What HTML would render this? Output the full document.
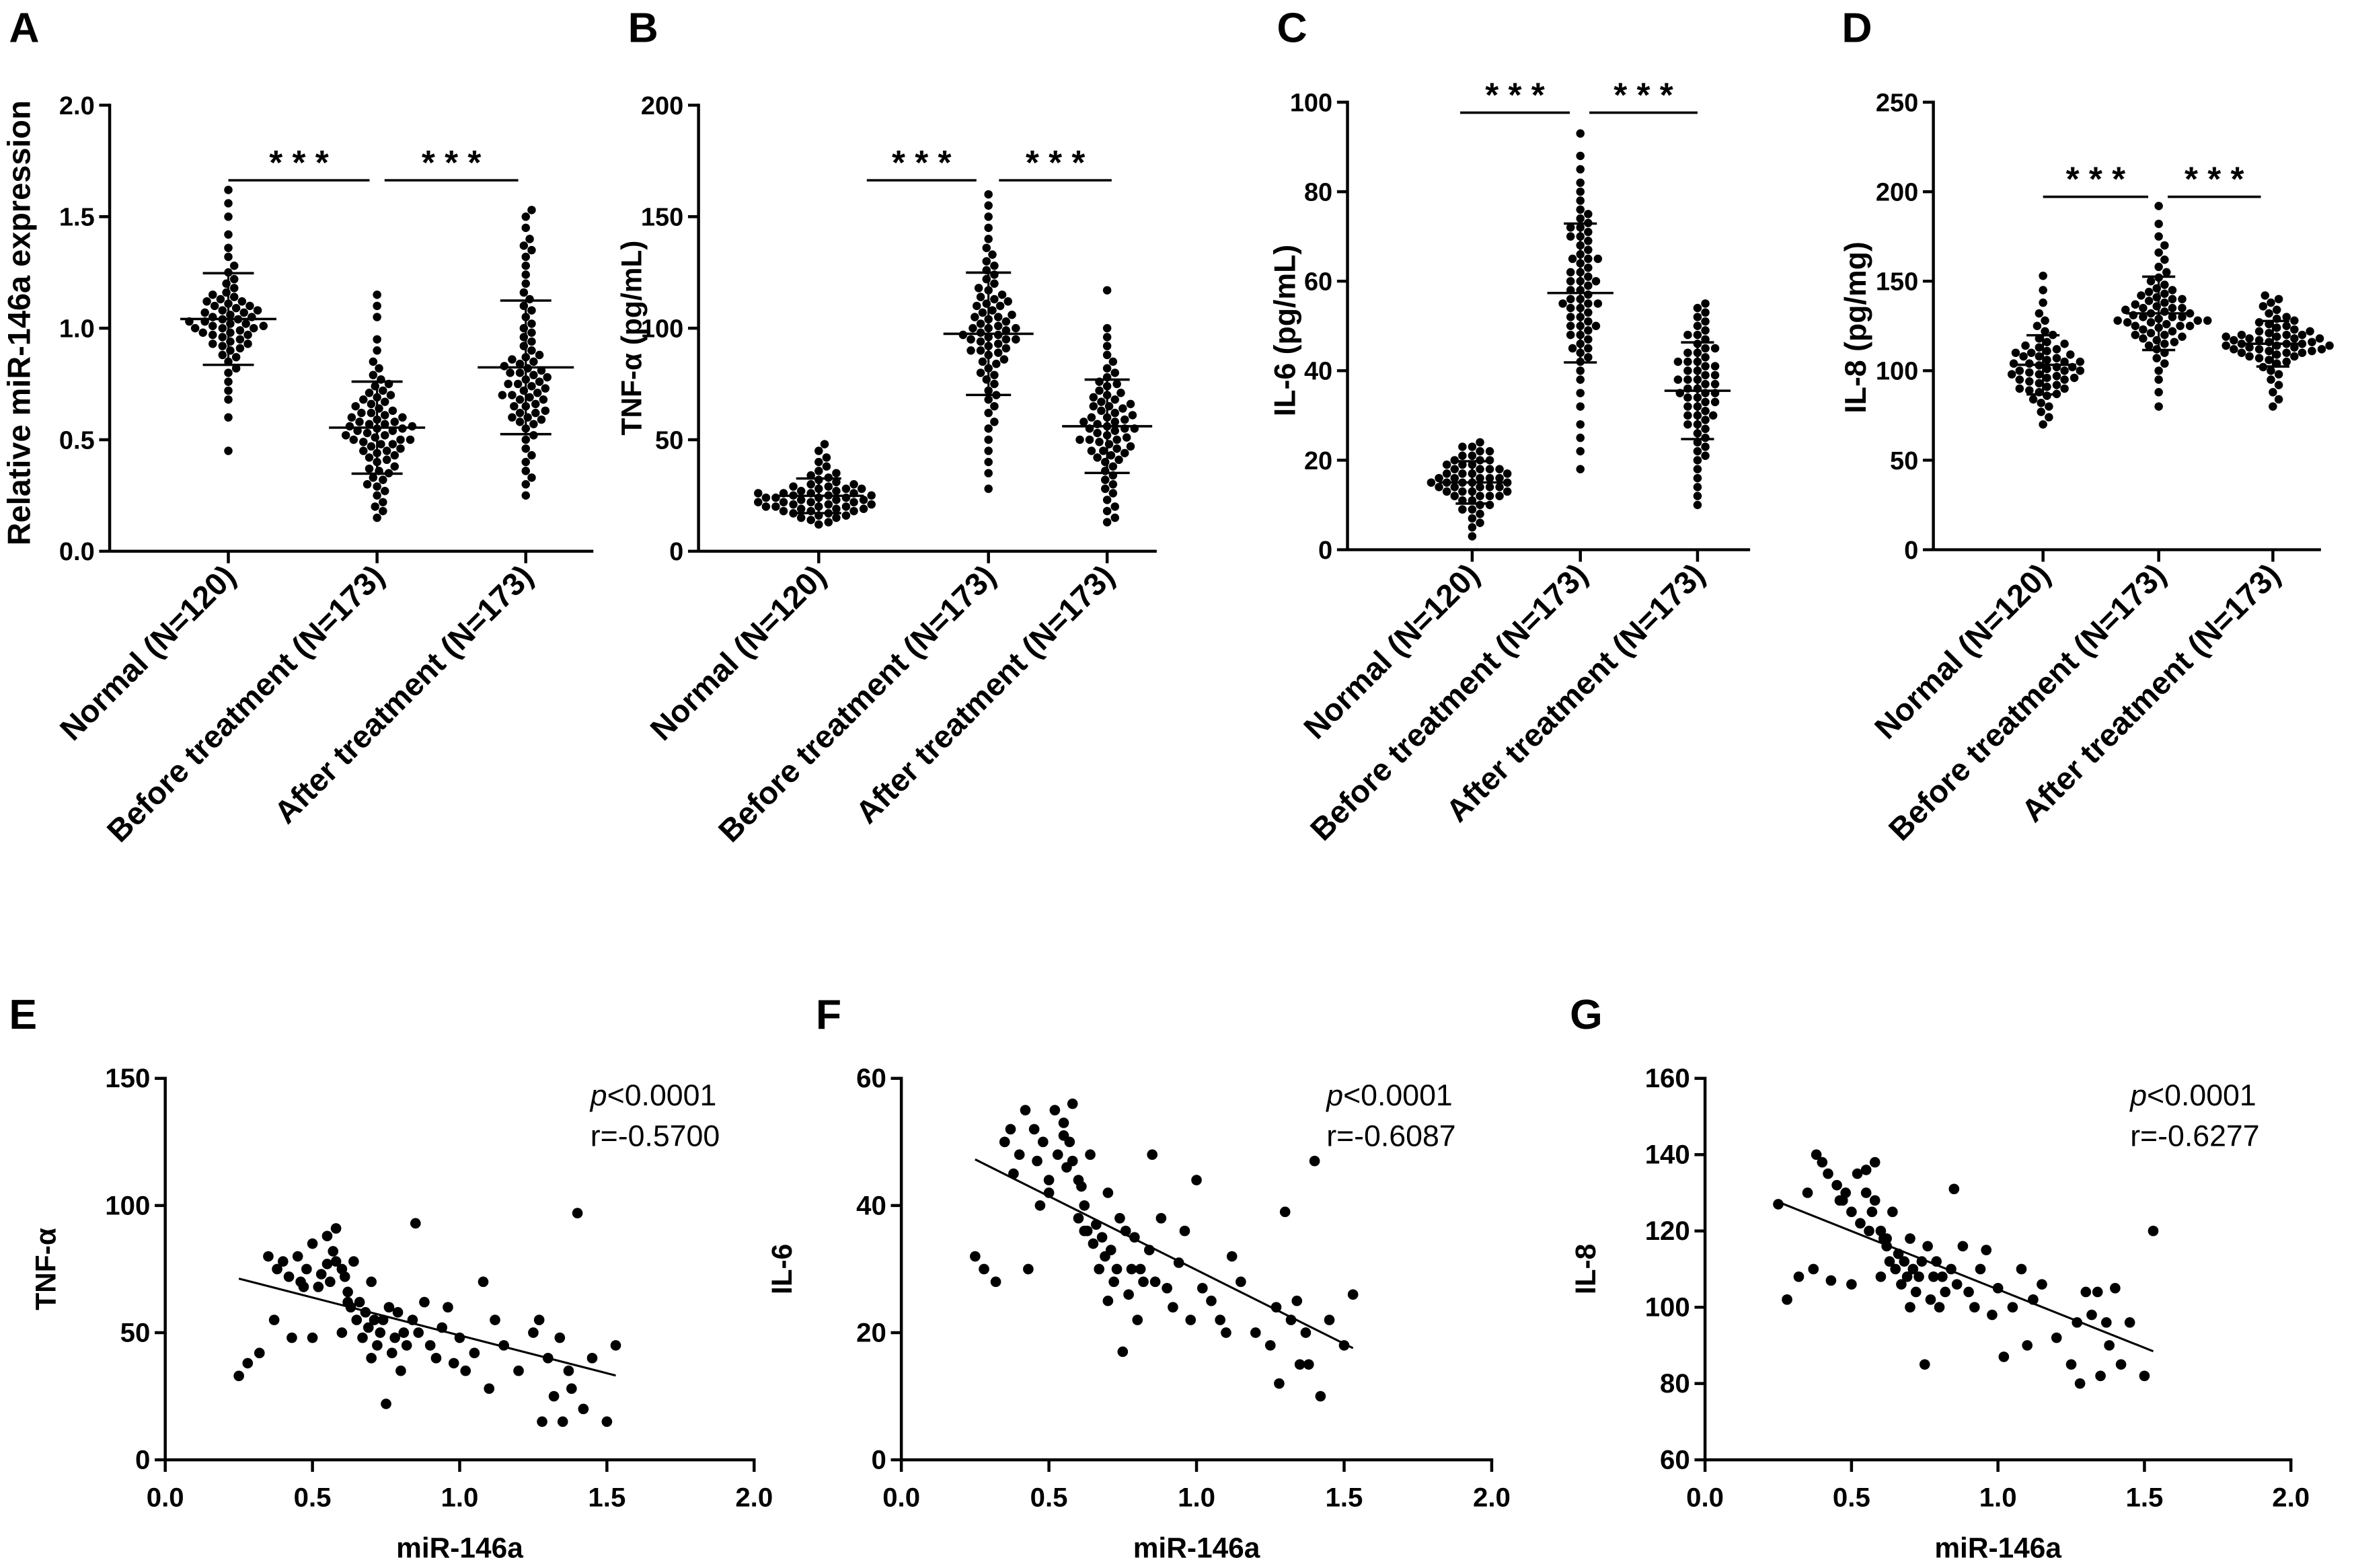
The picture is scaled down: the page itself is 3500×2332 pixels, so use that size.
<!DOCTYPE html>
<html><head><meta charset="utf-8"><style>
html,body{margin:0;padding:0;background:#fff}
svg{display:block;font-family:"Liberation Sans",Arial,sans-serif}
</style></head><body>
<svg id="fig" width="3500" height="2332" viewBox="0 0 1567 1044" xmlns="http://www.w3.org/2000/svg"></svg>
<script>
const categories=["Normal (N=120)","Before treatment (N=173)","After treatment (N=173)"];
const aNormal=[0.45,0.6,0.68,0.72,0.76,0.8,0.82,0.85,0.87,0.88,0.9,0.91,0.92,0.93,0.94,0.95,0.96,0.97,0.98,0.98,0.99,1.0,1.0,1.01,1.01,1.02,1.02,1.03,1.03,1.04,1.04,1.05,1.05,1.06,1.07,1.07,1.08,1.09,1.1,1.1,1.11,1.12,1.13,1.14,1.15,1.16,1.18,1.2,1.22,1.25,1.28,1.32,1.36,1.42,1.5,1.56,1.62,0.93,1.0,1.08,0.97,1.12];
const aBefore=[0.15,0.18,0.2,0.22,0.25,0.27,0.29,0.3,0.32,0.33,0.35,0.36,0.37,0.38,0.4,0.41,0.42,0.43,0.44,0.45,0.46,0.47,0.48,0.48,0.49,0.5,0.5,0.51,0.52,0.52,0.53,0.54,0.54,0.55,0.55,0.56,0.56,0.57,0.58,0.58,0.59,0.6,0.6,0.61,0.62,0.62,0.63,0.64,0.65,0.66,0.67,0.68,0.69,0.7,0.71,0.72,0.74,0.75,0.77,0.79,0.82,0.85,0.9,0.95,1.05,1.1,1.15,0.45,0.5,0.57];
const aAfter=[0.25,0.3,0.33,0.36,0.4,0.43,0.46,0.5,0.52,0.55,0.57,0.59,0.6,0.62,0.63,0.65,0.66,0.68,0.69,0.7,0.71,0.72,0.73,0.74,0.75,0.76,0.77,0.78,0.79,0.8,0.81,0.82,0.83,0.84,0.85,0.86,0.87,0.88,0.9,0.92,0.94,0.96,0.98,1.0,1.02,1.05,1.08,1.1,1.13,1.16,1.2,1.24,1.28,1.32,1.35,1.37,1.4,1.45,1.5,1.53,0.6,0.65,0.7,0.75,0.8,0.62,0.68,0.58];
const bNormal=[12,13,14,15,15,16,16,17,17,18,18,18,19,19,19,20,20,20,21,21,21,22,22,22,23,23,23,24,24,24,25,25,25,26,26,26,27,27,28,28,29,29,30,30,31,32,33,34,35,36,38,40,42,45,48,20,22,24,26,28];
const bBefore=[28,35,40,45,50,55,58,62,65,68,70,72,75,77,79,80,82,84,85,86,88,89,90,91,92,93,94,95,95,96,97,97,98,99,100,100,101,102,103,104,105,106,107,108,110,111,112,113,114,115,117,118,120,122,124,126,128,130,133,136,140,145,150,155,160,90,95,100,105,110];
const bAfter=[13,15,18,20,23,26,28,30,32,34,36,38,40,41,42,43,44,45,46,47,48,49,50,50,51,52,53,54,55,55,56,57,58,58,59,60,61,62,63,64,65,66,67,68,69,70,71,72,74,75,76,78,80,82,85,88,92,96,100,117,45,50,55,60,65];
const cNormal=[3,5,6,7,8,9,9,10,10,11,11,12,12,12,13,13,13,14,14,14,14,15,15,15,15,16,16,16,16,17,17,17,18,18,18,19,19,19,20,20,20,21,21,22,22,23,23,24,14,15,16,13,17,12,18];
const cBefore=[18,22,25,28,32,35,38,40,42,43,44,45,46,47,48,48,49,50,50,51,52,52,53,54,54,55,55,56,56,57,58,58,59,60,60,61,62,62,63,64,65,65,66,67,68,69,70,70,71,72,72,73,74,75,76,78,80,82,85,88,93,50,55,60,65,45];
const cAfter=[10,12,14,16,18,20,21,22,23,24,25,26,27,28,28,29,30,30,31,32,32,33,33,34,34,35,35,36,36,37,37,38,38,39,39,40,40,41,41,42,42,43,44,44,45,45,46,47,48,48,49,50,51,52,53,54,55,35,38,30,42];
const dNormal=[70,74,77,80,82,84,86,87,88,89,90,91,92,93,94,95,96,96,97,98,98,99,100,100,101,102,102,103,104,104,105,106,107,108,108,109,110,111,112,113,114,115,116,118,120,122,125,128,132,138,145,153,100,95,105,110,90];
const dBefore=[80,88,95,100,104,107,110,112,114,115,116,117,118,119,120,121,122,123,124,125,125,126,127,127,128,128,129,130,130,131,132,132,133,134,135,135,136,137,138,139,140,141,142,143,144,145,146,148,150,152,155,158,162,166,170,175,182,192,120,125,130,135,140,128];
const dAfter=[80,84,88,92,95,98,100,102,104,105,106,107,108,108,109,110,110,111,111,112,112,113,113,114,114,114,115,115,116,116,117,117,118,118,119,119,120,120,121,122,122,123,124,125,126,127,128,129,130,132,134,136,138,140,142,112,115,118,110,120];
const aTicks=["0.0","0.5","1.0","1.5","2.0"];
const bTicks=["0","50","100","150","200"];
const cTicks=["0","20","40","60","80","100"];
const dTicks=["0","50","100","150","200","250"];
const mirX=[0.25,0.28,0.32,0.35,0.37,0.38,0.4,0.42,0.43,0.45,0.46,0.48,0.5,0.5,0.52,0.53,0.55,0.55,0.56,0.57,0.58,0.58,0.6,0.6,0.61,0.62,0.63,0.64,0.65,0.66,0.67,0.68,0.69,0.7,0.7,0.71,0.72,0.73,0.74,0.75,0.76,0.77,0.78,0.79,0.8,0.81,0.82,0.84,0.85,0.86,0.88,0.9,0.92,0.94,0.96,0.98,1.0,1.02,1.05,1.08,1.1,1.12,1.15,1.2,1.25,1.27,1.28,1.3,1.32,1.34,1.35,1.37,1.38,1.4,1.42,1.45,1.5,1.53,0.47,0.62];
const tnfY=[33,38,42,80,55,75,78,72,48,80,70,75,48,85,68,73,77,88,70,82,78,91,75,50,72,66,60,78,55,62,48,58,52,70,40,55,45,50,55,22,60,42,48,58,35,50,45,55,93,50,62,45,40,52,60,38,48,35,42,70,28,55,45,35,50,55,15,40,25,48,15,35,28,97,20,40,15,45,68,62];
const il6Y=[32,30,28,50,52,45,48,55,30,52,47,50,42,44,55,48,51,53,46,50,47,56,44,38,43,40,36,48,34,37,30,35,32,42,25,33,28,30,38,17,36,26,30,35,22,30,28,33,48,28,38,27,24,31,36,22,44,27,25,22,20,32,28,20,18,24,12,39,22,25,15,20,15,47,10,22,18,26,40,36];
const il8Y=[127,102,108,130,110,140,138,135,107,132,128,130,106,125,135,122,130,136,120,125,128,138,120,108,118,116,112,125,110,114,106,112,108,118,100,110,104,108,112,85,116,102,108,112,100,108,104,110,131,106,116,104,100,110,115,98,105,87,100,110,90,102,106,92,85,96,80,104,98,104,82,96,90,105,85,96,82,120,128,118];
const xTicks=["0.0","0.5","1.0","1.5","2.0"];
const eTicks=["0","50","100","150"];
const fTicks=["0","20","40","60"];
const gTicks=["60","80","100","120","140","160"];
const pLabels=["p<0.0001","p<0.0001","p<0.0001"];
const rLabels=["r=-0.5700","r=-0.6087","r=-0.6277"];

const NS="http://www.w3.org/2000/svg";
const svg=document.getElementById('fig');
function el(tag,attrs,parent,text){const e=document.createElementNS(NS,tag);for(const k in attrs)e.setAttribute(k,attrs[k]);if(text!==undefined)e.textContent=text;(parent||svg).appendChild(e);return e;}
function line(x1,y1,x2,y2,w,p,name){const l=el('line',{x1,y1,x2,y2,stroke:'#000','stroke-width':w||1.6},p);

return l;}
function txt(x,y,s,size,anchor,weight,p,name,extra){const t=el('text',Object.assign({x,y,'font-size':size,'text-anchor':anchor||'middle','font-weight':weight||'normal',fill:'#000'},extra||{}),p,s);

return t;}

function swarmPanel(o){
  const g=el('g',{});
  
  
  const ys=v=>o.y0-(v-o.vmin)/(o.vmax-o.vmin)*(o.y0-o.y1);
  txt(o.lx,28,o.letter,28,'start','bold',g,'panel-letter');
  line(o.ax,o.y0,o.ax,o.y1-1,2,g,'y-axis');
  line(o.ax,o.y0,o.axEnd,o.y0,2,g,'x-axis');
  o.ticks.forEach((t,i)=>{const y=ys(o.vmin+i*(o.vmax-o.vmin)/(o.ticks.length-1));
    line(o.ax-7,y,o.ax,y,2,g,'y-tick');
    txt(o.ax-10,y+6,t,17,'end','bold',g,'y-tick-label');});
  txt(0,0,o.ytitle,o.tsz,'middle','bold',g,'y-axis-title',{transform:`translate(${o.ytx},${o.yty}) rotate(-90)`});
  o.groups.forEach((vals,gi)=>{
    const cx=o.cx[gi];
    line(cx,o.y0,cx,o.y0+8,2,g,'x-tick');
    txt(0,0,categories[gi],21,'end','bold',g,'category-label',{transform:`translate(${cx+6},${o.y0+18}) rotate(-45)`});
    const r=2.8,d=5.8;const placed=[];
    const sorted=vals.slice().sort((a,b)=>a-b);
    sorted.forEach(v=>{const y=ys(v);let x=cx;
      for(let s=0;s<200;s++){const off=(s%2?1:-1)*Math.ceil(s/2)*1.3;x=cx+off;
        if(placed.every(p=>(p[0]-x)**2+(p[1]-y)**2>=d*d*0.95))break;}
      placed.push([x,y]);
      const c=el('circle',{cx:x,cy:y,r,fill:'#000'},g);
      
      });
    const m=vals.reduce((a,b)=>a+b,0)/vals.length;
    const sd=Math.sqrt(vals.reduce((a,b)=>a+(b-m)**2,0)/(vals.length-1));
    line(cx-o.mw,ys(m),cx+o.mw,ys(m),1.6,g,'mean-line');
    line(cx-o.cw,ys(m+sd),cx+o.cw,ys(m+sd),1.6,g,'sd-cap-upper');
    line(cx-o.cw,ys(m-sd),cx+o.cw,ys(m-sd),1.6,g,'sd-cap-lower');
    line(cx,ys(m-sd),cx,ys(m+sd),1.4,g,'sd-bar');
  });
  o.sig.forEach(s=>{line(s[0],o.sigY,s[1],o.sigY,1.6,g,'significance-line');
    txt((s[0]+s[1])/2,o.sigY-4,'* * *',23,'middle','bold',g,'significance-stars');});
}
swarmPanel({name:'panel-a',letter:'A',lx:6,ax:73,axEnd:395,y0:367,y1:70,vmin:0,vmax:2,ticks:aTicks,ytitle:'Relative miR-146a expression',ytx:20,yty:215,tsz:21,mw:32,cw:17,
  groups:[aNormal,aBefore,aAfter],cx:[152,251,350],sigY:120,sig:[[152,246],[256,345]]});
swarmPanel({name:'panel-b',letter:'B',lx:418,ax:465,axEnd:770,y0:367,y1:70,vmin:0,vmax:200,ticks:bTicks,ytitle:'TNF-α (pg/mL)',ytx:427,yty:225,tsz:19,mw:30,cw:15,
  groups:[bNormal,bBefore,bAfter],cx:[545,658,737],sigY:120,sig:[[577,650],[665,740]]});
swarmPanel({name:'panel-c',letter:'C',lx:850,ax:897,axEnd:1165,y0:366,y1:68,vmin:0,vmax:100,ticks:cTicks,ytitle:'IL-6 (pg/mL)',ytx:862,yty:220,tsz:20,mw:22,cw:11,
  groups:[cNormal,cBefore,cAfter],cx:[980,1052,1130],sigY:75,sig:[[972,1045],[1058,1130]]});
swarmPanel({name:'panel-d',letter:'D',lx:1226,ax:1287,axEnd:1545,y0:366,y1:68,vmin:0,vmax:250,ticks:dTicks,ytitle:'IL-8 (pg/mg)',ytx:1242,yty:218,tsz:20,mw:22,cw:11,
  groups:[dNormal,dBefore,dAfter],cx:[1360,1437,1513],sigY:131,sig:[[1360,1430],[1443,1505]]});

function scatterPanel(o){
  const g=el('g',{});
  
  
  const ys=v=>o.y0-(v-o.vmin)/(o.vmax-o.vmin)*(o.y0-o.y1);
  const xs=v=>o.x0+v/2*(o.x1-o.x0);
  txt(o.lx,685,o.letter,28,'start','bold',g,'panel-letter');
  line(o.x0,o.y0,o.x0,o.y1-1,2,g,'y-axis');
  line(o.x0,o.y0,o.x1+1,o.y0,2,g,'x-axis');
  o.ticks.forEach((t,i)=>{const y=ys(o.vmin+i*(o.vmax-o.vmin)/(o.ticks.length-1));
    line(o.x0-7,y,o.x0,y,2,g,'y-tick');txt(o.x0-10,y+6,t,18,'end','bold',g,'y-tick-label');});
  xTicks.forEach((t,i)=>{const x=xs(i*0.5);line(x,o.y0,x,o.y0+8,2,g,'x-tick');txt(x,o.y0+31,t,18,'middle','bold',g,'x-tick-label');});
  txt((o.x0+o.x1)/2,o.y0+65,'miR-146a',19,'middle','bold',g,'x-axis-title');
  txt(0,0,o.ytitle,19,'middle','bold',g,'y-axis-title',{transform:`translate(${o.x0-73},${(o.y0+o.y1)/2}) rotate(-90)`});
  const n=Math.min(mirX.length,o.ys.length);
  let sx=0,sy=0;for(let i=0;i<n;i++){sx+=mirX[i];sy+=o.ys[i];}
  const mx=sx/n,my=sy/n;let sxy=0,sxx=0;for(let i=0;i<n;i++){sxy+=(mirX[i]-mx)*(o.ys[i]-my);sxx+=(mirX[i]-mx)**2;}
  const b=sxy/sxx,a=my-b*mx;
  for(let i=0;i<n;i++){const c=el('circle',{cx:xs(mirX[i]),cy:ys(o.ys[i]),r:3.5,fill:'#000'},g);
    
    }
  line(xs(0.25),ys(a+b*0.25),xs(1.53),ys(a+b*1.53),1.4,g,'regression-line');
  const pt=txt(o.x0+283,736,'',20,'start','normal',g,'p-value');
  const ps=el('tspan',{'font-style':'italic'},pt,'p');
  el('tspan',{},pt,pLabels[o.i].slice(1));
  txt(o.x0+283,763,rLabels[o.i],20,'start','normal',g,'r-value');
}
scatterPanel({name:'panel-e',i:0,letter:'E',lx:6,x0:110,x1:502,y0:972,y1:718,vmin:0,vmax:150,ticks:eTicks,ytitle:'TNF-α',ys:tnfY});
scatterPanel({name:'panel-f',i:1,letter:'F',lx:543,x0:600,x1:993,y0:972,y1:718,vmin:0,vmax:60,ticks:fTicks,ytitle:'IL-6',ys:il6Y});
scatterPanel({name:'panel-g',i:2,letter:'G',lx:1045,x0:1135,x1:1525,y0:972,y1:718,vmin:60,vmax:160,ticks:gTicks,ytitle:'IL-8',ys:il8Y});
</script>
</body></html>
